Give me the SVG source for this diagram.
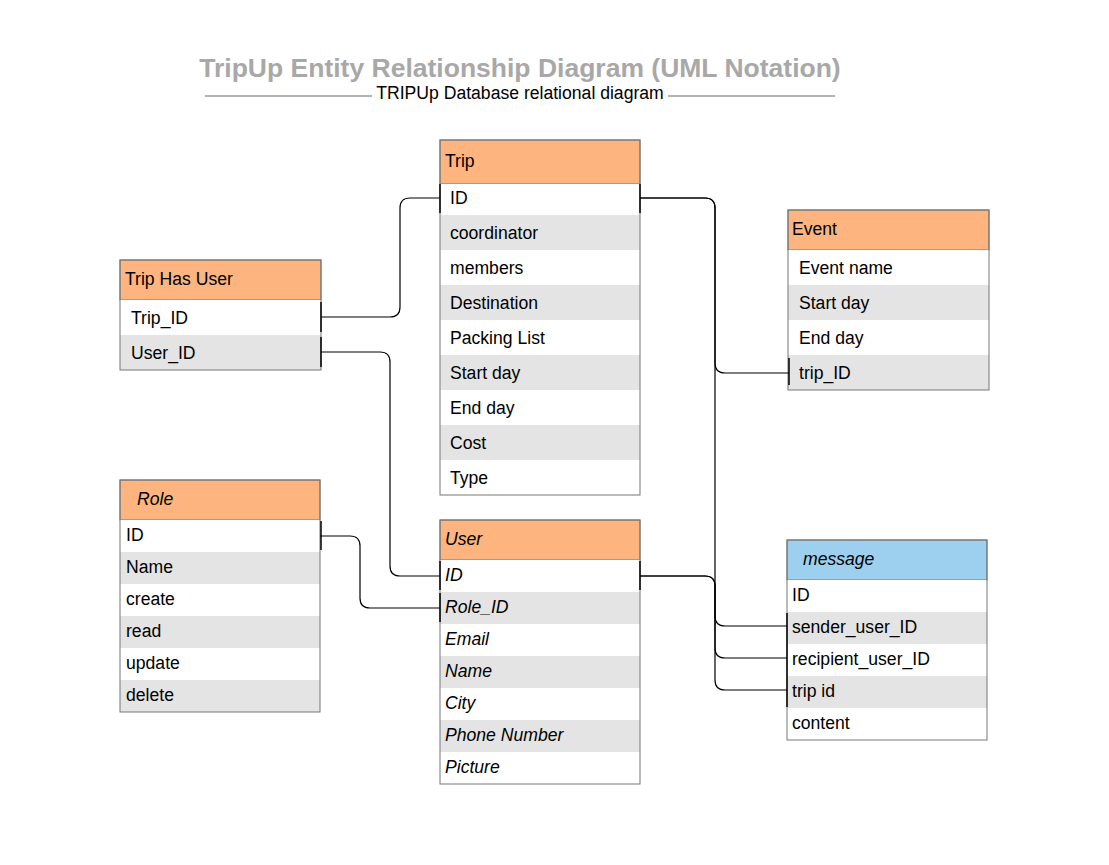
<svg xmlns="http://www.w3.org/2000/svg" width="1109" height="865" viewBox="0 0 1109 865">
<style>
text{font-family:"Liberation Sans",Arial,sans-serif;font-size:17.6px;fill:#000}
.title{font-size:26.5px;font-weight:bold;fill:#a8a8a8}
.it{font-style:italic}
.hdr{fill:#fdb47f;stroke:#777;stroke-width:1}
.hdrb{fill:#9dd0ef;stroke:#777;stroke-width:1}
.w{fill:#fff}
.g{fill:#e4e4e4}
.box{fill:none;stroke:#777;stroke-width:1}
.c{fill:none;stroke:#000;stroke-width:1.2}
.bar{stroke:#000;stroke-width:1.5}
</style>
<rect width="1109" height="865" fill="#fff"/>
<g id="title">
<text class="title" x="520" y="77" text-anchor="middle">TripUp Entity Relationship Diagram (UML Notation)</text>
<line x1="205" y1="96" x2="372" y2="96" stroke="#999" stroke-width="1.5"/>
<line x1="668" y1="96" x2="835" y2="96" stroke="#999" stroke-width="1.5"/>
<text x="520" y="99" text-anchor="middle">TRIPUp Database relational diagram</text>
</g>
<g id="trip">
<rect class="hdr" x="440" y="140" width="200" height="44"/>
<text x="445" y="167">Trip</text>
<rect class="w" x="440" y="184" width="200" height="31"/>
<rect class="g" x="440" y="215" width="200" height="35"/>
<rect class="w" x="440" y="250" width="200" height="35"/>
<rect class="g" x="440" y="285" width="200" height="35"/>
<rect class="w" x="440" y="320" width="200" height="35"/>
<rect class="g" x="440" y="355" width="200" height="35"/>
<rect class="w" x="440" y="390" width="200" height="35"/>
<rect class="g" x="440" y="425" width="200" height="35"/>
<rect class="w" x="440" y="460" width="200" height="35"/>
<rect class="box" x="440" y="140" width="200" height="355"/>
<text x="450" y="204">ID</text>
<text x="450" y="239">coordinator</text>
<text x="450" y="274">members</text>
<text x="450" y="309">Destination</text>
<text x="450" y="344">Packing List</text>
<text x="450" y="379">Start day</text>
<text x="450" y="414">End day</text>
<text x="450" y="449">Cost</text>
<text x="450" y="484">Type</text>
</g>
<g id="event">
<rect class="hdr" x="788" y="210" width="201" height="40"/>
<text x="792" y="235">Event</text>
<rect class="w" x="788" y="250" width="201" height="35"/>
<rect class="g" x="788" y="285" width="201" height="35"/>
<rect class="w" x="788" y="320" width="201" height="35"/>
<rect class="g" x="788" y="355" width="201" height="35"/>
<rect class="box" x="788" y="210" width="201" height="180"/>
<text x="799" y="274">Event name</text>
<text x="799" y="309">Start day</text>
<text x="799" y="344">End day</text>
<text x="799" y="379">trip_ID</text>
</g>
<g id="trip-has-user">
<rect class="hdr" x="120" y="260" width="201" height="40"/>
<text x="125" y="285">Trip Has User</text>
<rect class="w" x="120" y="300" width="201" height="35"/>
<rect class="g" x="120" y="335" width="201" height="35"/>
<rect class="box" x="120" y="260" width="201" height="110"/>
<text x="131" y="324">Trip_ID</text>
<text x="131" y="359">User_ID</text>
</g>
<g id="role">
<rect class="hdr" x="120" y="480" width="200" height="40"/>
<text class="it" x="137" y="505">Role</text>
<rect class="w" x="120" y="520" width="200" height="32"/>
<rect class="g" x="120" y="552" width="200" height="32"/>
<rect class="w" x="120" y="584" width="200" height="32"/>
<rect class="g" x="120" y="616" width="200" height="32"/>
<rect class="w" x="120" y="648" width="200" height="32"/>
<rect class="g" x="120" y="680" width="200" height="32"/>
<rect class="box" x="120" y="480" width="200" height="232"/>
<text x="126" y="541">ID</text>
<text x="126" y="573">Name</text>
<text x="126" y="605">create</text>
<text x="126" y="637">read</text>
<text x="126" y="669">update</text>
<text x="126" y="701">delete</text>
</g>
<g id="user">
<rect class="hdr" x="440" y="520" width="200" height="40"/>
<text class="it" x="445" y="545">User</text>
<rect class="w" x="440" y="560" width="200" height="32"/>
<rect class="g" x="440" y="592" width="200" height="32"/>
<rect class="w" x="440" y="624" width="200" height="32"/>
<rect class="g" x="440" y="656" width="200" height="32"/>
<rect class="w" x="440" y="688" width="200" height="32"/>
<rect class="g" x="440" y="720" width="200" height="32"/>
<rect class="w" x="440" y="752" width="200" height="32"/>
<rect class="box" x="440" y="520" width="200" height="264"/>
<text class="it" x="445" y="581">ID</text>
<text class="it" x="445" y="613">Role_ID</text>
<text class="it" x="445" y="645">Email</text>
<text class="it" x="445" y="677">Name</text>
<text class="it" x="445" y="709">City</text>
<text class="it" x="445" y="741">Phone Number</text>
<text class="it" x="445" y="773">Picture</text>
</g>
<g id="message">
<rect class="hdrb" x="787" y="540" width="200" height="40"/>
<text class="it" x="803" y="565">message</text>
<rect class="w" x="787" y="580" width="200" height="32"/>
<rect class="g" x="787" y="612" width="200" height="32"/>
<rect class="w" x="787" y="644" width="200" height="32"/>
<rect class="g" x="787" y="676" width="200" height="32"/>
<rect class="w" x="787" y="708" width="200" height="32"/>
<rect class="box" x="787" y="540" width="200" height="200"/>
<text x="792" y="601">ID</text>
<text x="792" y="633">sender_user_ID</text>
<text x="792" y="665">recipient_user_ID</text>
<text x="792" y="697">trip id</text>
<text x="792" y="729">content</text>
</g>
<g id="connectors">
<path class="c" d="M440 198 H410 Q400 198 400 208 V307 Q400 317 390 317 H321"/>
<path class="c" d="M640 198 H705 Q715 198 715 208 V363 Q715 373 725 373 H789"/>
<path class="c" d="M640 198 H705 Q715 198 715 208 V680 Q715 690 725 690 H787"/>
<path class="c" d="M640 576 H705 Q715 576 715 586 V616 Q715 626 725 626 H787"/>
<path class="c" d="M640 576 H705 Q715 576 715 586 V648 Q715 658 725 658 H787"/>
<path class="c" d="M321 352 H380 Q390 352 390 362 V566 Q390 576 400 576 H440"/>
<path class="c" d="M320 536 H350 Q360 536 360 546 V598 Q360 608 370 608 H440"/>
<line class="bar" x1="440" y1="184" x2="440" y2="213"/>
<line class="bar" x1="640" y1="184" x2="640" y2="213"/>
<line class="bar" x1="321" y1="302" x2="321" y2="332"/>
<line class="bar" x1="321" y1="337" x2="321" y2="367"/>
<line class="bar" x1="789" y1="358" x2="789" y2="385"/>
<line class="bar" x1="321" y1="521" x2="321" y2="550"/>
<line class="bar" x1="440" y1="561" x2="440" y2="590"/>
<line class="bar" x1="440" y1="593" x2="440" y2="622"/>
<line class="bar" x1="640" y1="561" x2="640" y2="590"/>
<line class="bar" x1="787" y1="613" x2="787" y2="707"/>
</g>
</svg>
